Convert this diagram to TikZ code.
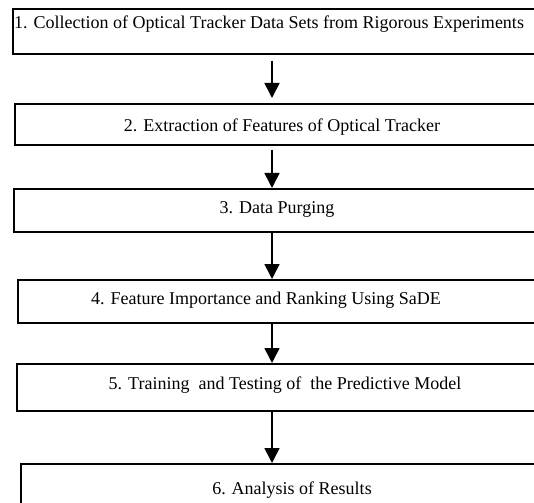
\documentclass[tikz,border=0pt]{standalone}
\usepackage{fontspec}
\setmainfont{Liberation Serif}
\usetikzlibrary{arrows.meta}

\begin{document}
\begin{tikzpicture}[x=1pt,y=-1pt,
    stepbox/.style={draw,line width=1.6pt,minimum width=600pt,anchor=north west,inner sep=0pt},
    steptext/.style={font=\fontsize{18}{20}\selectfont,inner sep=0pt},
    flow/.style={-{Triangle[length=15pt,width=15pt]},line width=1.6pt}]
    \useasboundingbox (0,0) rectangle (534,502);
    \clip (0,0) rectangle (534,502);
    \node[stepbox,minimum height=45pt] (b1) at (12,8) {};
    \node[stepbox,minimum height=41pt] (b2) at (14,103) {};
    \node[stepbox,minimum height=43pt] (b3) at (13,188) {};
    \node[stepbox,minimum height=43pt] (b4) at (17,279) {};
    \node[stepbox,minimum height=47pt] (b5) at (16,363) {};
    \node[stepbox,minimum height=70pt] (b6) at (20,463) {};
    \node[steptext,anchor=west] (t1) at (14,24) {1. Collection of Optical Tracker Data Sets from Rigorous Experiments};
    \node[steptext] (t2) at (282,127) {2. Extraction of Features of Optical Tracker};
    \node[steptext] (t3) at (277,209) {3. Data Purging};
    \node[steptext] (t4) at (266,300) {4. Feature Importance and Ranking Using SaDE};
    \node[steptext] (t5) at (285,385) {5. Training~ and Testing of~ the Predictive Model};
    \node[steptext] (t6) at (292,490) {6. Analysis of Results};
    \coordinate (ax) at (272,0);
    \draw[flow] ([yshift=-6pt]b1.south -| ax) -- ([yshift=5pt]b2.north -| ax);
    \draw[flow] ([yshift=-4pt]b2.south -| ax) -- (b3.north -| ax);
    \draw[flow] (b3.south -| ax) -- (b4.north -| ax);
    \draw[flow] (b4.south -| ax) -- (b5.north -| ax);
    \draw[flow] (b5.south -| ax) -- (b6.north -| ax);
\end{tikzpicture}
\end{document}
